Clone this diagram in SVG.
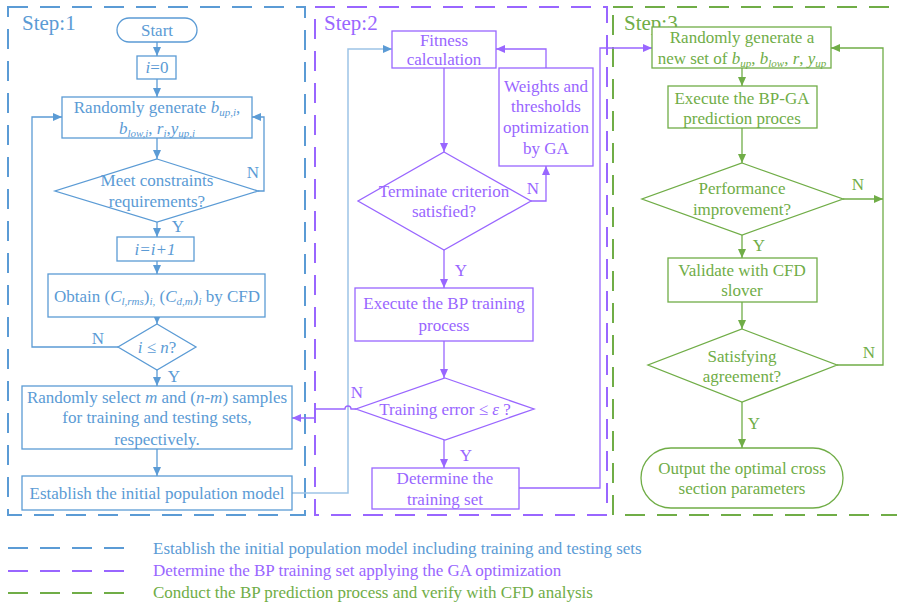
<svg xmlns="http://www.w3.org/2000/svg" width="897" height="606" viewBox="0 0 897 606">
<defs>
<marker id="aB" markerUnits="userSpaceOnUse" markerWidth="10" markerHeight="10" refX="9" refY="5" orient="auto"><path d="M0,1 L9,5 L0,9 z" fill="#5B9BD5"/></marker>
<marker id="aL" markerUnits="userSpaceOnUse" markerWidth="10" markerHeight="10" refX="9" refY="5" orient="auto"><path d="M0,1 L9,5 L0,9 z" fill="#5B9BD5"/></marker>
<marker id="aP" markerUnits="userSpaceOnUse" markerWidth="10" markerHeight="10" refX="9" refY="5" orient="auto"><path d="M0,1 L9,5 L0,9 z" fill="#9966FF"/></marker>
<marker id="aG" markerUnits="userSpaceOnUse" markerWidth="10" markerHeight="10" refX="9" refY="5" orient="auto"><path d="M0,1 L9,5 L0,9 z" fill="#70AD47"/></marker>
</defs>
<style>
text{font-family:"Liberation Serif","Times New Roman",serif;font-size:17px;text-anchor:middle}
.b{fill:#5B9BD5}.p{fill:#9966FF}.g{fill:#70AD47}
.nb{fill:#fff;stroke:#5B9BD5;stroke-width:1.3}
.np{fill:#fff;stroke:#9966FF;stroke-width:1.3}
.ng{fill:#fff;stroke:#70AD47;stroke-width:1.3}
.cb{fill:none;stroke:#5B9BD5;stroke-width:1.3;marker-end:url(#aB)}
.cl{fill:none;stroke:#9DC3E6;stroke-width:1.5;marker-end:url(#aL)}
.cp{fill:none;stroke:#9966FF;stroke-width:1.3;marker-end:url(#aP)}
.cg{fill:none;stroke:#70AD47;stroke-width:1.3;marker-end:url(#aG)}
.fb{fill:none;stroke:#5B9BD5;stroke-width:2;stroke-dasharray:20 12}
.fp{fill:none;stroke:#9966FF;stroke-width:2;stroke-dasharray:20 12}
.fg{fill:none;stroke:#70AD47;stroke-width:2;stroke-dasharray:20 12}
.it{font-style:italic}
.sb{font-style:italic;font-size:11px}
.st{font-size:21px;text-anchor:start}
.lg{text-anchor:start}
</style>

<g id="frames">
<rect class="fb" x="8" y="7" width="297" height="508"/>
<rect class="fp" x="315" y="7" width="292" height="508"/>
<rect class="fg" x="613" y="7" width="290" height="508"/>
<text class="st b" x="22" y="30">Step:1</text>
<text class="st p" x="324" y="30">Step:2</text>
<text class="st g" x="624" y="30">Step:3</text>
</g>

<g id="connectors">
<path class="cb" d="M157,42 V56"/>
<path class="cb" d="M157,79 V97"/>
<path class="cb" d="M157,138 V159"/>
<path class="cb" d="M157,222 V237"/>
<path class="cb" d="M157,261 V274"/>
<path class="cb" d="M157,317 V324"/>
<path class="cb" d="M157,370 V386"/>
<path class="cb" d="M157,449 V476"/>
<path class="cb" d="M258,191 H264 V117 H252"/>
<path class="cb" d="M118,347 H32 V117 H62"/>
<path class="cl" d="M292,493 H348 V49 H392"/>
<path class="cp" d="M444,68 V152"/>
<path class="cp" d="M444,250 V288"/>
<path class="cp" d="M444,341 V378"/>
<path class="cp" d="M444,440 V468"/>
<path class="cp" d="M546,68 V49 H496"/>
<path class="cp" d="M531,201 H546 V166"/>
<path class="cp" d="M356,409 H351 A3,3 0 0 0 345,409 H315 V418 H292"/>
<path class="cp" d="M519,488 H600 V48 H652"/>
<path class="cg" d="M742,68 V86"/>
<path class="cg" d="M742,128 V163"/>
<path class="cg" d="M742,235 V258"/>
<path class="cg" d="M742,302 V329"/>
<path class="cg" d="M742,402 V448"/>
<path class="cg" d="M843,199 H883"/>
<path class="cg" d="M837,365 H883 V48 H831"/>
<text class="b" x="253" y="178">N</text>
<text class="b" x="178" y="232">Y</text>
<text class="b" x="98" y="344">N</text>
<text class="b" x="174" y="382">Y</text>
<text class="p" x="533" y="194">N</text>
<text class="p" x="461" y="276">Y</text>
<text class="p" x="357" y="398">N</text>
<text class="p" x="466" y="461">Y</text>
<text class="g" x="858" y="190">N</text>
<text class="g" x="759" y="251">Y</text>
<text class="g" x="869" y="358">N</text>
<text class="g" x="754" y="429">Y</text>
</g>

<g id="start"><rect class="nb" x="117" y="18" width="80" height="24" rx="12"/><text class="b" x="157" y="36">Start</text></g>
<g id="i0"><rect class="nb" x="137" y="56" width="39" height="23"/><text class="b" x="157" y="73"><tspan class="it">i</tspan>=0</text></g>
<g id="gen1"><rect class="nb" x="62" y="97" width="190" height="41"/>
<text class="b" x="157" y="113">Randomly generate <tspan class="it">b</tspan><tspan class="sb" dy="3">up,i</tspan><tspan dy="-3">,</tspan></text>
<text class="b" x="157" y="134"><tspan class="it">b</tspan><tspan class="sb" dy="3">low,i</tspan><tspan dy="-3">, </tspan><tspan class="it">r</tspan><tspan class="sb" dy="3">i</tspan><tspan dy="-3">,</tspan><tspan class="it">y</tspan><tspan class="sb" dy="3">up,i</tspan></text></g>
<g id="meet"><polygon class="nb" points="157,159 258,191 157,222 55,191"/>
<text class="b" x="157" y="186">Meet constraints</text><text class="b" x="157" y="207">requirements?</text></g>
<g id="inc"><rect class="nb" x="117" y="237" width="77" height="24"/><text class="b it" x="155" y="255">i=i+1</text></g>
<g id="obtain"><rect class="nb" x="48" y="274" width="217" height="43"/>
<text class="b" x="157" y="302">Obtain (<tspan class="it">C</tspan><tspan class="sb" dy="3">l,rms</tspan><tspan dy="-3">)</tspan><tspan class="sb" dy="3">i,</tspan><tspan dy="-3"> (</tspan><tspan class="it">C</tspan><tspan class="sb" dy="3">d,m</tspan><tspan dy="-3">)</tspan><tspan class="sb" dy="3">i</tspan><tspan dy="-3"> by CFD</tspan></text></g>
<g id="ilen"><polygon class="nb" points="157,324 196,347 157,370 118,347"/><text class="b" x="157" y="353"><tspan class="it">i</tspan> ≤ <tspan class="it">n</tspan>?</text></g>
<g id="select"><rect class="nb" x="22" y="386" width="270" height="63"/>
<text class="b" x="157" y="403">Randomly select <tspan class="it">m</tspan> and (<tspan class="it">n-m</tspan>) samples</text>
<text class="b" x="157" y="423">for training and testing sets,</text>
<text class="b" x="157" y="445">respectively.</text></g>
<g id="establish"><rect class="nb" x="22" y="476" width="270" height="34"/><text class="b" x="157" y="499">Establish the initial population model</text></g>

<g id="fitness"><rect class="np" x="392" y="31" width="104" height="37"/><text class="p" x="444" y="46">Fitness</text><text class="p" x="444" y="65">calculation</text></g>
<g id="weights"><rect class="np" x="499" y="68" width="94" height="98"/>
<text class="p" x="546" y="92">Weights and</text><text class="p" x="546" y="112">thresholds</text><text class="p" x="546" y="133">optimization</text><text class="p" x="546" y="154">by GA</text></g>
<g id="terminate"><polygon class="np" points="444,152 531,201 444,250 358,201"/>
<text class="p" x="444" y="197">Terminate criterion</text><text class="p" x="444" y="217">satisfied?</text></g>
<g id="bptrain"><rect class="np" x="355" y="288" width="178" height="53"/>
<text class="p" x="444" y="309">Execute the BP training</text><text class="p" x="444" y="331">process</text></g>
<g id="trainerr"><polygon class="np" points="445,378 534,409 445,440 356,409"/>
<text class="p" x="445" y="415">Training error ≤ <tspan class="it">ε</tspan> ?</text></g>
<g id="determine"><rect class="np" x="372" y="468" width="147" height="41"/>
<text class="p" x="445" y="484">Determine the</text><text class="p" x="445" y="505">training set</text></g>

<g id="gen2"><rect class="ng" x="652" y="27" width="179" height="41"/>
<text class="g" x="742" y="43">Randomly generate a</text>
<text class="g" x="742" y="64">new set of <tspan class="it">b</tspan><tspan class="sb" dy="3">up</tspan><tspan dy="-3">, </tspan><tspan class="it">b</tspan><tspan class="sb" dy="3">low</tspan><tspan dy="-3">, </tspan><tspan class="it">r</tspan>, <tspan class="it">y</tspan><tspan class="sb" dy="3">up</tspan></text></g>
<g id="bpga"><rect class="ng" x="668" y="86" width="149" height="42"/>
<text class="g" x="742" y="104">Execute the BP-GA</text><text class="g" x="742" y="124">prediction proces</text></g>
<g id="perf"><polygon class="ng" points="742,163 843,199 742,235 642,199"/>
<text class="g" x="742" y="194">Performance</text><text class="g" x="742" y="215">improvement?</text></g>
<g id="validate"><rect class="ng" x="668" y="258" width="149" height="44"/>
<text class="g" x="742" y="276">Validate with CFD</text><text class="g" x="742" y="296">slover</text></g>
<g id="satisfy"><polygon class="ng" points="742,329 837,365 742,402 648,365"/>
<text class="g" x="742" y="362">Satisfying</text><text class="g" x="742" y="382">agreement?</text></g>
<g id="output"><rect class="ng" x="641" y="448" width="202" height="60" rx="30"/>
<text class="g" x="742" y="474">Output the optimal cross</text><text class="g" x="742" y="494">section parameters</text></g>

<g id="legend">
<path class="fb" d="M8,548 H125" stroke-dasharray="27 17"/>
<path class="fp" d="M8,571 H125" stroke-dasharray="27 17"/>
<path class="fg" d="M8,593 H125" stroke-dasharray="27 17"/>
<text class="b lg" x="153" y="554">Establish the initial population model including training and testing sets</text>
<text class="p lg" x="153" y="576">Determine the BP training set applying the GA optimization</text>
<text class="g lg" x="153" y="598">Conduct the BP prediction process and verify with CFD analysis</text>
</g>
</svg>
